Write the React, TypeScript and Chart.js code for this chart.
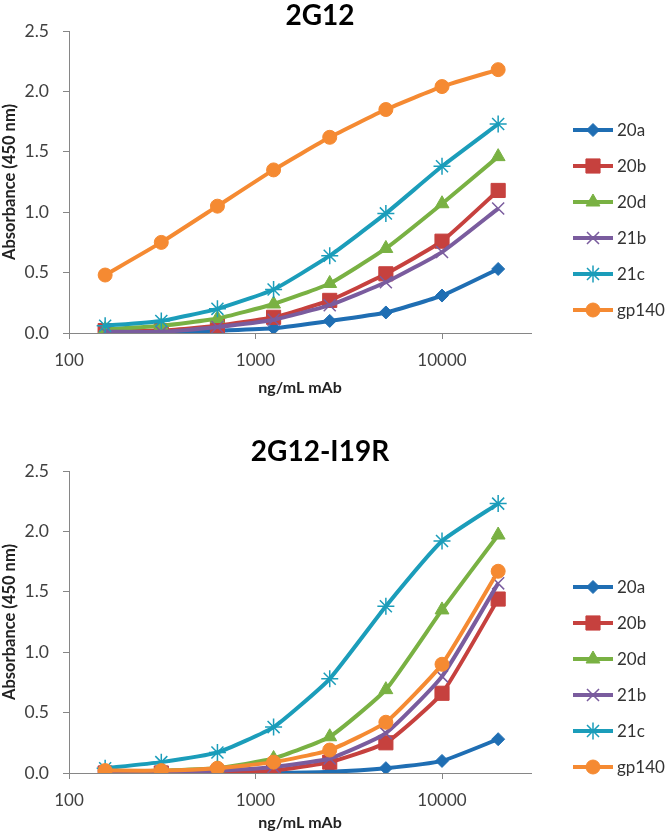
import React, { useEffect, useRef } from "react";
import { Chart, registerables } from "chart.js";
import { drawPoint } from "chart.js/helpers";

Chart.register(...registerables);

// ---------- data ----------
const concentrations = [156.25, 312.5, 625, 1250, 2500, 5000, 10000, 20000];
const seriesNames = ["20a", "20b", "20d", "21b", "21c", "gp140"];
const xTickValues = [100, 1000, 10000];
const yTickValues = [0, 0.5, 1.0, 1.5, 2.0, 2.5];

// Panel 1: 2G12
const p1_20a = [0.01, 0.0, 0.02, 0.04, 0.1, 0.17, 0.31, 0.53];
const p1_20b = [0.02, 0.02, 0.06, 0.13, 0.27, 0.49, 0.76, 1.18];
const p1_20d = [0.03, 0.06, 0.12, 0.24, 0.41, 0.7, 1.07, 1.46];
const p1_21b = [0.01, 0.01, 0.05, 0.11, 0.23, 0.42, 0.67, 1.03];
const p1_21c = [0.06, 0.1, 0.2, 0.36, 0.64, 0.99, 1.38, 1.73];
const p1_gp140 = [0.48, 0.75, 1.05, 1.35, 1.62, 1.85, 2.04, 2.18];

// Panel 2: 2G12-I19R
const p2_20a = [0.0, 0.0, 0.0, 0.0, 0.01, 0.04, 0.1, 0.28];
const p2_20b = [0.0, 0.0, 0.0, 0.02, 0.09, 0.25, 0.66, 1.44];
const p2_20d = [0.0, 0.02, 0.04, 0.12, 0.3, 0.69, 1.35, 1.97];
const p2_21b = [0.01, 0.01, 0.02, 0.05, 0.12, 0.33, 0.8, 1.57];
const p2_21c = [0.04, 0.09, 0.17, 0.38, 0.78, 1.38, 1.92, 2.23];
const p2_gp140 = [0.02, 0.02, 0.04, 0.09, 0.19, 0.42, 0.9, 1.67];

const panel1Values = [p1_20a, p1_20b, p1_20d, p1_21b, p1_21c, p1_gp140];
const panel2Values = [p2_20a, p2_20b, p2_20d, p2_21b, p2_21c, p2_gp140];

// ---------- styles ----------
const colors = ["#1F6EB3", "#C6413E", "#79B143", "#7A5C9E", "#1B9DBA", "#F58A32"];
const pointStyles = ["rectRot", "rect", "triangle", "crossRot", "star", "circle"];
const pointRadii = [6.5, 10, 8, 8.5, 8.5, 7];
const pointBorders = [1, 1, 1, 1.5, 1.5, 1];

const FONT = "Lato, 'Open Sans', sans-serif";

const overlayPlugin = {
  id: "overlay",
  afterDraw(chart: any, _args: any, opts: any) {
    const ctx = chart.ctx;
    ctx.save();
    ctx.fillStyle = "#000";
    ctx.font = `bold 28px ${FONT}`;
    ctx.textAlign = "center";
    ctx.textBaseline = "middle";
    ctx.fillText(opts.title, opts.titleX, opts.titleY);

    chart.data.datasets.forEach((ds: any, i: number) => {
      const y = opts.legendTop + i * opts.legendGap;
      ctx.strokeStyle = ds.borderColor;
      ctx.lineWidth = 4;
      ctx.lineCap = "butt";
      ctx.beginPath();
      ctx.moveTo(opts.legendX, y);
      ctx.lineTo(opts.legendX + 40, y);
      ctx.stroke();
      ctx.fillStyle = ds.pointBackgroundColor;
      ctx.strokeStyle = ds.pointBorderColor;
      ctx.lineWidth = ds.pointBorderWidth;
      drawPoint(
        ctx,
        {
          pointStyle: ds.pointStyle,
          radius: ds.pointRadius,
          rotation: 0,
          borderWidth: ds.pointBorderWidth,
        } as any,
        opts.legendX + 20,
        y
      );
      ctx.fillStyle = "#333";
      ctx.font = `17px ${FONT}`;
      ctx.textAlign = "left";
      ctx.textBaseline = "middle";
      ctx.fillText(ds.label, opts.legendX + 44, y + 1);
    });
    ctx.restore();
  },
};

type PanelProps = {
  title: string;
  values: number[][];
  height: number;
  areaTop: number;
  xAxisHeight: number;
  xTitlePad: number;
  titleY: number;
  legendTop: number;
};

function Panel(p: PanelProps) {
  const ref = useRef<HTMLCanvasElement | null>(null);
  useEffect(() => {
    if (!ref.current) return;
    const datasets = seriesNames.map((name, i) => ({
      label: name,
      data: concentrations.map((c, j) => ({ x: c, y: p.values[i][j] })),
      borderColor: colors[i],
      backgroundColor: colors[i],
      pointBackgroundColor: colors[i],
      pointBorderColor: colors[i],
      pointStyle: pointStyles[i],
      pointRadius: pointRadii[i],
      pointBorderWidth: pointBorders[i],
      borderWidth: 4,
      tension: 0.15,
      order: seriesNames.length - 1 - i,
    }));
    const chart = new Chart(ref.current, {
      type: "line",
      data: { datasets } as any,
      plugins: [overlayPlugin as any],
      options: {
        animation: false,
        responsive: false,
        maintainAspectRatio: false,
        layout: { padding: { top: p.areaTop, right: 135, left: 0, bottom: 0 } },
        plugins: {
          legend: { display: false },
          title: { display: false },
          tooltip: { enabled: false },
          overlay: {
            title: p.title,
            titleX: 320,
            titleY: p.titleY,
            legendTop: p.legendTop,
            legendGap: 36,
            legendX: 573,
          },
        } as any,
        scales: {
          x: {
            type: "logarithmic",
            min: 100,
            max: 30000,
            afterBuildTicks: (s: any) => {
              s.ticks = xTickValues.map((v) => ({ value: v }));
            },
            afterFit: (s: any) => {
              s.height = p.xAxisHeight;
            },
            ticks: {
              color: "#404040",
              font: { family: FONT, size: 17 },
              padding: 11,
              maxRotation: 0,
              autoSkip: false,
              callback: (v: any) => String(v),
            },
            grid: { drawOnChartArea: false, drawTicks: true, tickLength: 6, color: "#868686" },
            border: { color: "#868686", width: 1 },
            title: {
              display: true,
              text: "ng/mL mAb",
              color: "#222",
              font: { family: FONT, size: 16, weight: "bold" },
              padding: { top: 0, bottom: p.xTitlePad },
            },
          },
          y: {
            min: 0,
            max: 2.5,
            afterBuildTicks: (s: any) => {
              s.ticks = yTickValues.map((v) => ({ value: v }));
            },
            afterFit: (s: any) => {
              s.width = 69;
            },
            ticks: {
              color: "#404040",
              font: { family: FONT, size: 17.5 },
              padding: 14,
              callback: (v: any) => Number(v).toFixed(1),
            },
            grid: { drawOnChartArea: false, drawTicks: true, tickLength: 6, color: "#868686" },
            border: { color: "#868686", width: 1 },
            title: {
              display: true,
              text: "Absorbance (450 nm)",
              color: "#222",
              font: { family: FONT, size: 16.5, weight: "bold" },
              padding: { top: 0, bottom: 0 },
            },
          },
        },
      } as any,
    });
    return () => chart.destroy();
  }, []);
  return (
    <div style={{ width: 666, height: p.height, position: "relative" }}>
      <canvas ref={ref} width={666} height={p.height} style={{ display: "block" }} />
    </div>
  );
}

export default function App() {
  return (
    <div style={{ position: "absolute", left: 0, top: 0, width: 666, height: 838, background: "#fff" }}>
      <Panel
        title="2G12"
        values={panel1Values}
        height={410}
        areaTop={31}
        xAxisHeight={77}
        xTitlePad={12.4}
        titleY={16}
        legendTop={130}
      />
      <Panel
        title="2G12-I19R"
        values={panel2Values}
        height={428}
        areaTop={61}
        xAxisHeight={65}
        xTitlePad={5.4}
        titleY={42}
        legendTop={177}
      />
    </div>
  );
}
